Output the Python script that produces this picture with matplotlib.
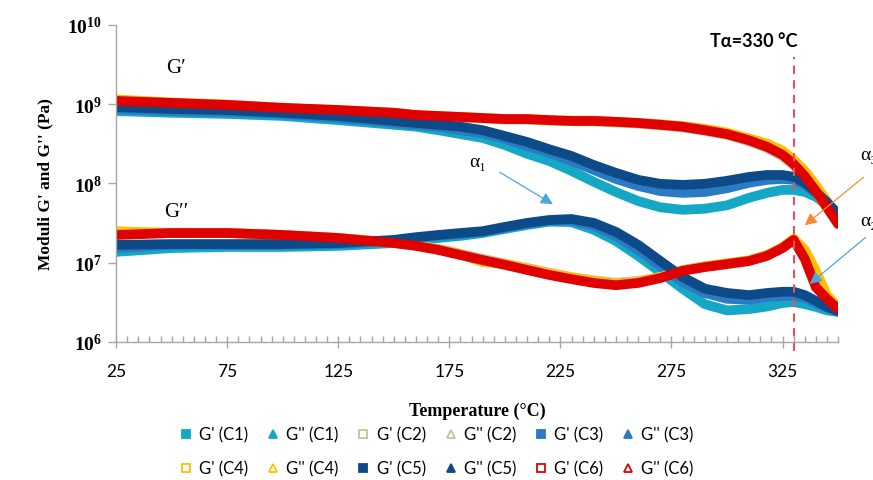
import matplotlib
matplotlib.use("Agg")
import matplotlib.pyplot as plt
from matplotlib.lines import Line2D
from matplotlib.ticker import FixedLocator, MultipleLocator

plt.rcParams['mathtext.fontset'] = 'custom'
plt.rcParams['mathtext.rm'] = 'Liberation Serif:bold'
plt.rcParams['mathtext.bf'] = 'Liberation Serif:bold'

# temperature grid (°C)
temp = [25, 50, 75, 100, 125, 150, 160, 170, 180, 190, 200, 210, 220, 230, 240,
        250, 260, 270, 280, 290, 300, 310, 318, 325, 330, 335, 340, 345, 350]

# storage modulus G' (Pa)
g1_c1 = [8.2e8, 7.8e8, 7.55e8, 7.1e8, 6.3e8, 5.5e8, 5.2e8, 4.7e8, 4.2e8, 3.75e8, 3.06e8, 2.37e8, 1.92e8, 1.44e8, 1.05e8,
         7.8e7, 6.0e7, 5.0e7, 4.65e7, 4.8e7, 5.3e7, 6.6e7, 7.6e7, 8.3e7, 8.3e7, 7.8e7, 6.8e7, 5.3e7, 4.1e7]
g1_c2 = [1.08e9, 1.03e9, 9.7e8, 8.9e8, 8.35e8, 7.7e8, 7.2e8, 7.0e8, 6.8e8, 6.6e8, 6.4e8, 6.4e8, 6.2e8, 6.1e8, 6.05e8,
         5.9e8, 5.7e8, 5.4e8, 5.1e8, 4.6e8, 4.1e8, 3.4e8, 2.8e8, 2.2e8, 1.7e8, 1.2e8, 7.8e7, 4.9e7, 3.0e7]
g1_c3 = [8.7e8, 8.2e8, 8.0e8, 7.55e8, 6.7e8, 5.8e8, 5.5e8, 5.2e8, 4.7e8, 4.3e8, 3.65e8, 2.97e8, 2.43e8, 1.92e8, 1.48e8,
         1.14e8, 9.3e7, 8.0e7, 7.6e7, 7.8e7, 8.7e7, 1.02e8, 1.11e8, 1.14e8, 1.11e8, 9.6e7, 7.6e7, 5.6e7, 4.1e7]
g1_c4 = [1.15e9, 1.05e9, 9.9e8, 9.0e8, 8.45e8, 7.8e8, 7.3e8, 7.1e8, 6.9e8, 6.7e8, 6.5e8, 6.5e8, 6.3e8, 6.2e8, 6.2e8,
         6.0e8, 5.8e8, 5.6e8, 5.3e8, 4.9e8, 4.4e8, 3.7e8, 3.2e8, 2.6e8, 2.0e8, 1.45e8, 9.5e7, 6.0e7, 3.4e7]
g1_c5 = [9.2e8, 8.7e8, 8.45e8, 7.8e8, 7.1e8, 6.15e8, 5.8e8, 5.5e8, 5.2e8, 4.7e8, 3.97e8, 3.34e8, 2.7e8, 2.22e8, 1.71e8,
         1.36e8, 1.11e8, 9.9e7, 9.6e7, 9.9e7, 1.08e8, 1.21e8, 1.28e8, 1.28e8, 1.21e8, 1.02e8, 7.8e7, 5.8e7, 4.1e7]
g1_c6 = [1.10e9, 1.04e9, 9.8e8, 9.0e8, 8.45e8, 7.8e8, 7.3e8, 7.1e8, 6.9e8, 6.7e8, 6.5e8, 6.5e8, 6.3e8, 6.15e8, 6.15e8,
         6.0e8, 5.8e8, 5.5e8, 5.2e8, 4.7e8, 4.2e8, 3.5e8, 2.9e8, 2.3e8, 1.76e8, 1.24e8, 8.0e7, 5.0e7, 3.1e7]

# loss modulus G'' (Pa)
g2_c1 = [1.37e7, 1.53e7, 1.58e7, 1.58e7, 1.63e7, 1.77e7, 1.94e7, 2.05e7, 2.18e7, 2.37e7, 2.67e7, 2.99e7, 3.3e7, 3.25e7, 2.6e7,
         1.88e7, 1.22e7, 7.6e6, 4.7e6, 3.0e6, 2.5e6, 2.6e6, 2.8e6, 3.1e6, 3.2e6, 3.0e6, 2.77e6, 2.5e6, 2.4e6]
g2_c2 = [2.3e7, 2.37e7, 2.37e7, 2.24e7, 2.05e7, 1.8e7, 1.66e7, 1.5e7, 1.3e7, 1.12e7, 9.8e6, 8.6e6, 7.5e6, 6.6e6, 6.0e6,
         5.6e6, 5.9e6, 6.6e6, 8.1e6, 9.0e6, 9.8e6, 1.07e7, 1.24e7, 1.55e7, 1.96e7, 1.3e7, 5.5e6, 3.6e6, 2.7e6]
g2_c3 = [1.53e7, 1.68e7, 1.68e7, 1.68e7, 1.72e7, 1.88e7, 2.05e7, 2.18e7, 2.3e7, 2.45e7, 2.75e7, 3.1e7, 3.4e7, 3.4e7, 2.9e7,
         2.18e7, 1.45e7, 9.1e6, 5.7e6, 4.15e6, 3.5e6, 3.4e6, 3.7e6, 3.8e6, 3.8e6, 3.6e6, 3.1e6, 2.7e6, 2.4e6]
g2_c4 = [2.5e7, 2.38e7, 2.37e7, 2.24e7, 2.05e7, 1.78e7, 1.65e7, 1.47e7, 1.28e7, 1.02e7, 9.6e6, 8.4e6, 7.3e6, 6.5e6, 5.9e6,
         5.4e6, 5.7e6, 6.6e6, 8.0e6, 9.0e6, 9.8e6, 1.07e7, 1.25e7, 1.58e7, 2.0e7, 1.47e7, 7.9e6, 3.9e6, 2.77e6]
g2_c5 = [1.68e7, 1.72e7, 1.72e7, 1.72e7, 1.77e7, 1.94e7, 2.1e7, 2.24e7, 2.37e7, 2.5e7, 2.83e7, 3.18e7, 3.46e7, 3.56e7, 3.18e7,
         2.45e7, 1.68e7, 1.05e7, 6.6e6, 4.7e6, 4.15e6, 3.9e6, 4.15e6, 4.3e6, 4.3e6, 3.9e6, 3.3e6, 2.77e6, 2.46e6]
g2_c6 = [2.24e7, 2.37e7, 2.37e7, 2.24e7, 2.05e7, 1.77e7, 1.63e7, 1.45e7, 1.25e7, 1.08e7, 9.4e6, 8.1e6, 7.0e6, 6.2e6, 5.55e6,
         5.2e6, 5.55e6, 6.4e6, 7.9e6, 8.8e6, 9.6e6, 1.05e7, 1.22e7, 1.53e7, 1.94e7, 1.12e7, 4.9e6, 3.5e6, 2.6e6]

samples = ['C1', 'C2', 'C3', 'C4', 'C5', 'C6']
colors = ['#14A8C6', '#C8C09A', '#2A7BC4', '#FFC000', '#0D4A88', '#E00000']
filled = [True, False, True, False, True, False]
g1_all = [g1_c1, g1_c2, g1_c3, g1_c4, g1_c5, g1_c6]
g2_all = [g2_c1, g2_c2, g2_c3, g2_c4, g2_c5, g2_c6]
t_alpha = 330

fig = plt.figure(figsize=(8.73, 4.81), dpi=100)
ax = fig.add_axes([0.133, 0.287, 0.827, 0.659])

for g1, g2, c, f in zip(g1_all, g2_all, colors, filled):
    ax.plot(temp, g1, color=c, lw=7, solid_joinstyle='round', solid_capstyle='round')
    ax.plot(temp, g2, color=c, lw=7, solid_joinstyle='round', solid_capstyle='round')

ax.set_yscale('log')
ax.set_ylim(1e6, 1e10)
ax.set_xlim(25, 350)

for s in ['top', 'right']:
    ax.spines[s].set_visible(False)
for s in ['left', 'bottom']:
    ax.spines[s].set_color('#A6A6A6')
    ax.spines[s].set_linewidth(1.0)

ax.xaxis.set_major_locator(FixedLocator([25, 75, 125, 175, 225, 275, 325]))
ax.xaxis.set_minor_locator(MultipleLocator(5))
ax.tick_params(axis='x', which='major', direction='inout', length=9, width=1,
               color='#A6A6A6', pad=11, labelsize=12.5)
ax.tick_params(axis='x', which='minor', direction='in', length=4, width=1, color='#A6A6A6')
for lab in ax.get_xticklabels():
    lab.set_family(['Lato', 'DejaVu Sans'])

ax.yaxis.set_major_locator(FixedLocator([1e6, 1e7, 1e8, 1e9, 1e10]))
ax.yaxis.set_minor_locator(FixedLocator([]))
ax.set_yticklabels([r'$\mathrm{10^{6}}$', r'$\mathrm{10^{7}}$', r'$\mathrm{10^{8}}$',
                    r'$\mathrm{10^{9}}$', r'$\mathrm{10^{10}}$'])
ax.tick_params(axis='y', which='major', direction='out', length=6, width=1,
               color='#A6A6A6', pad=4, labelsize=14)

serif = ['Liberation Serif', 'DejaVu Serif']
ax.set_xlabel('Temperature (°C)', family=serif, fontweight='bold', fontsize=13, labelpad=16)
ax.set_ylabel("Moduli G' and G'' (Pa)", family=serif, fontweight='bold', fontsize=12.5, labelpad=10)

# G' / G'' labels
ax.text(52, 2.9e9, 'G′', family=serif, fontsize=15, ha='center', va='center')
ax.text(52, 4.4e7, 'G′′', family=serif, fontsize=15, ha='center', va='center')

# T alpha line
ax.plot([t_alpha, t_alpha], [-0.03, 0.90], transform=ax.get_xaxis_transform(),
        color='#E8505B', lw=1.5, ls=(0, (4, 3)), clip_on=False)
ax.text(312, 0.95, 'Tα=330 °C', transform=ax.get_xaxis_transform(), family=['Lato', 'DejaVu Sans'],
        fontweight='bold', fontsize=13, ha='center', va='center')

# relaxation arrows
ax.annotate('', xy=(222.7, 10**7.72), xytext=(196.6, 10**8.16),
            arrowprops=dict(arrowstyle='-|>', color='#4DA6DF', lw=0.9, mutation_scale=18),
            annotation_clip=False)
ax.text(188, 10**8.28, 'α₁', family=serif, fontsize=14, ha='center', va='center')

ax.annotate('', xy=(334, 10**7.45), xytext=(362.4, 10**8.1),
            arrowprops=dict(arrowstyle='-|>', color='#F78A3C', lw=0.9, mutation_scale=18),
            annotation_clip=False)
ax.text(360, 10**8.36, 'α₃', family=serif, fontsize=14, ha='left', va='center', clip_on=False)

ax.annotate('', xy=(336.3, 10**6.71), xytext=(363.3, 10**7.34),
            arrowprops=dict(arrowstyle='-|>', color='#4DA6DF', lw=0.9, mutation_scale=18),
            annotation_clip=False)
ax.text(360, 10**7.53, 'α₂', family=serif, fontsize=14, ha='left', va='center', clip_on=False)

# legend, row-major order
handles, labels = [], []
for s, c, f in zip(samples, colors, filled):
    fc = c if f else 'white'
    handles.append(Line2D([], [], ls='none', marker='s', ms=6, mfc=fc, mec=c, mew=1.3))
    labels.append("G' (%s)" % s)
    handles.append(Line2D([], [], ls='none', marker='^', ms=6, mfc=fc, mec=c, mew=1.3))
    labels.append("G'' (%s)" % s)
order = []
for i in range(6):
    order += [i, i + 6]
leg = fig.legend([handles[i] for i in order], [labels[i] for i in order], ncol=6,
                 loc='center', bbox_to_anchor=(0.5, 0.059), frameon=False,
                 prop={'family': ['Lato', 'DejaVu Sans'], 'size': 12},
                 handlelength=0.8, handletextpad=0.4, columnspacing=1.08, labelspacing=1.1)

fig.savefig('out.png', dpi=100)
